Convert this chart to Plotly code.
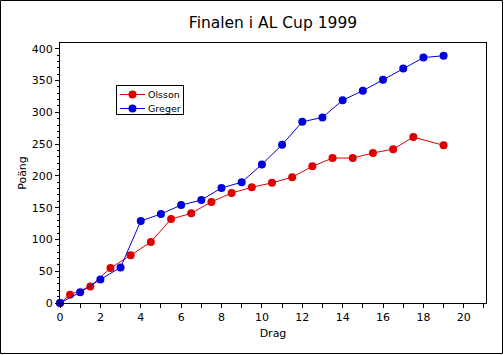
import plotly.graph_objects as go

olsson_x = [0, 0.5, 1.5, 2.5, 3.5, 4.5, 5.5, 6.5, 7.5, 8.5, 9.5, 10.5, 11.5, 12.5, 13.5, 14.5, 15.5, 16.5, 17.5, 19]
olsson_y = [0, 13, 26, 55, 75, 96, 132, 141, 159, 173, 182, 189, 198, 215, 228, 228, 236, 242, 261, 248]
greger_x = [0, 1, 2, 3, 4, 5, 6, 7, 8, 9, 10, 11, 12, 13, 14, 15, 16, 17, 18, 19]
greger_y = [0, 17, 37, 56, 129, 140, 154, 162, 181, 190, 218, 249, 285, 292, 319, 334, 351, 369, 386, 389]
series_names = ["Olsson", "Greger"]

RED = "#dd0000"
BLUE = "#0000dd"
FONT = "DejaVu Sans"

fig = go.Figure()
fig.add_trace(go.Scatter(x=olsson_x, y=olsson_y, name=series_names[0], mode="lines+markers",
                         line=dict(color=RED, width=1), marker=dict(color=RED, size=8),
                         cliponaxis=False, showlegend=False))
fig.add_trace(go.Scatter(x=greger_x, y=greger_y, name=series_names[1], mode="lines+markers",
                         line=dict(color=BLUE, width=1), marker=dict(color=BLUE, size=8),
                         cliponaxis=False, showlegend=False))

L, R, T, B = 60, 18, 43, 52
W, H = 504, 355
pw, ph = W - L - R, H - T - B

def px(x):
    return (x - L) / pw

def py(y):
    return (H - B - y) / ph

# outer frame
fig.add_shape(type="rect", xref="paper", yref="paper",
              x0=px(0.5), x1=px(502.5), y0=py(353.5), y1=py(0.5),
              line=dict(color="black", width=1), fillcolor="rgba(0,0,0,0)", layer="below")

# legend (drawn by hand to match the compact original)
fig.add_shape(type="rect", xref="paper", yref="paper",
              x0=px(116.5), x1=px(183.5), y0=py(114.5), y1=py(85.5),
              line=dict(color="black", width=1), fillcolor="white", layer="above")
for name, color, yy in [(series_names[0], RED, 94.5), (series_names[1], BLUE, 108.5)]:
    fig.add_shape(type="line", xref="paper", yref="paper",
                  x0=px(120), x1=px(145), y0=py(yy), y1=py(yy),
                  line=dict(color=color, width=1), layer="above")
    fig.add_shape(type="circle", xref="paper", yref="paper",
                  x0=px(128.5), x1=px(136.5), y0=py(yy + 4), y1=py(yy - 4),
                  line=dict(color=color, width=0), fillcolor=color, layer="above")
    fig.add_annotation(xref="paper", yref="paper", x=px(145.5), y=py(yy),
                       xanchor="left", yanchor="middle", showarrow=False,
                       text=name, font=dict(size=9.5, family=FONT, color="black"))

fig.update_layout(
    width=W, height=H, autosize=False,
    margin=dict(l=L, r=R, t=T, b=B),
    paper_bgcolor="white", plot_bgcolor="white",
    font=dict(family=FONT, size=11, color="black"),
    title=dict(text="Finalen i AL Cup 1999", x=0.5, xref="paper", xanchor="center",
               y=1 - 23 / H, yanchor="middle", font=dict(size=15.5, family=FONT)),
    showlegend=False,
    xaxis=dict(range=[0, 21.1], dtick=2, tick0=0, showgrid=False, zeroline=False,
               showline=True, linecolor="black", linewidth=1, mirror=True,
               ticks="outside", ticklen=4, tickcolor="black", automargin=False,
               minor=dict(dtick=1, ticklen=4, ticks="outside", tickcolor="black"),
               title=dict(text="Drag", font=dict(size=11), standoff=6)),
    yaxis=dict(range=[0, 409], dtick=50, tick0=0, showgrid=False, zeroline=False,
               showline=True, linecolor="black", linewidth=1, mirror=True,
               ticks="outside", ticklen=4, tickcolor="black", automargin=False,
               minor=dict(dtick=10, ticklen=2, ticks="outside", tickcolor="black"),
               title=dict(text="Poäng", font=dict(size=11), standoff=2)),
)

fig.write_html("out.html", config={"displayModeBar": False},
               post_script="document.body.style.margin='0';")
